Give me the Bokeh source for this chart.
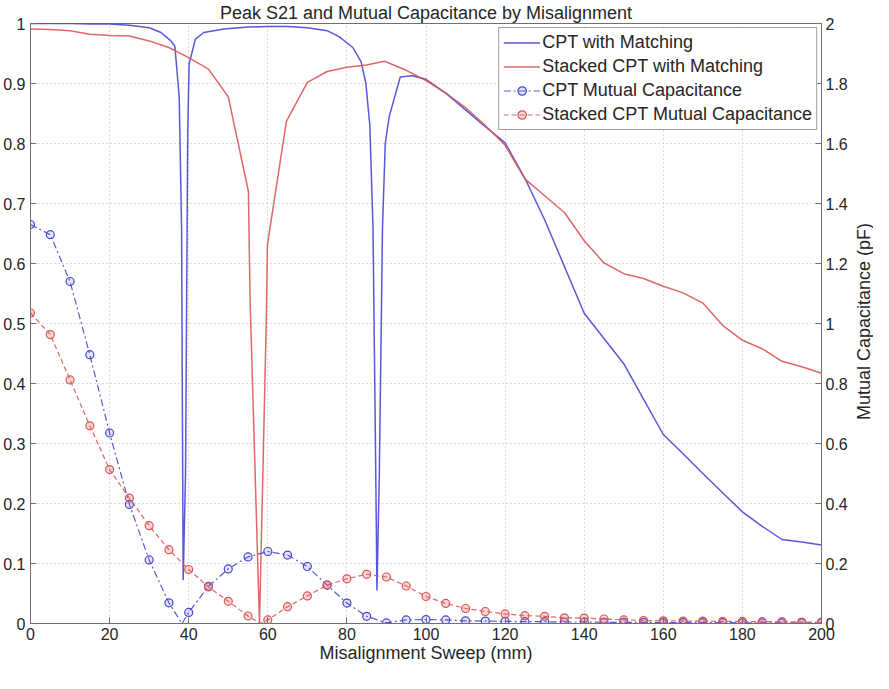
import math
from bokeh.plotting import figure
from bokeh.models import Range1d, LinearAxis, FixedTicker, Label
from bokeh.embed import file_html
from bokeh.resources import INLINE

# ---------------- data ----------------
# Peak S21, CPT with matching (left axis)
cpt_x = [0, 5, 10, 15, 20, 25, 30, 33, 35.5, 36.5, 37.6, 38.2, 38.6, 39.2, 39.6,
         39.75, 40.1, 41.7, 43.8, 48.9, 55, 60, 65, 70, 75, 78, 81.5, 83.6, 84.8,
         85.8, 86.6, 87.3, 87.6, 88.2, 89.0, 89.7, 90.7, 93.5, 96.5, 100, 105,
         110, 115, 120, 125, 130, 135, 140, 145, 150, 155, 160, 165, 170, 175,
         180, 185, 190, 195, 200]
cpt_s21 = [1.0, 1.0, 1.0, 0.999, 0.999, 0.997, 0.993, 0.985, 0.971, 0.962, 0.878,
           0.66, 0.072, 0.25, 0.66, 0.815, 0.933, 0.974, 0.985, 0.991, 0.994,
           0.995, 0.995, 0.993, 0.988, 0.978, 0.96, 0.936, 0.90, 0.83, 0.66, 0.25,
           0.055, 0.25, 0.66, 0.80, 0.845, 0.911, 0.913, 0.907, 0.884, 0.856,
           0.828, 0.801, 0.742, 0.673, 0.595, 0.517, 0.475, 0.433, 0.374, 0.315,
           0.283, 0.25, 0.218, 0.186, 0.162, 0.14, 0.136, 0.131]

# Peak S21, stacked CPT with matching (left axis)
stk_x = [0, 5, 10, 15, 20, 25, 30, 35, 40, 45, 50, 55.1, 55.5, 57.9, 59.7, 59.9,
         64.7, 70, 75, 80, 85, 89.5, 95, 100, 105, 110, 115, 120, 125, 130, 135,
         140, 145, 150, 155, 160, 165, 170, 175, 180, 185, 190, 195, 200]
stk_s21 = [0.991, 0.99, 0.988, 0.982, 0.98, 0.979, 0.971, 0.96, 0.943, 0.924,
           0.878, 0.72, 0.545, 0.0, 0.53, 0.631, 0.837, 0.902, 0.92, 0.927,
           0.931, 0.937, 0.922, 0.905, 0.884, 0.86, 0.83, 0.797, 0.741, 0.713,
           0.685, 0.638, 0.601, 0.583, 0.575, 0.562, 0.551, 0.534, 0.497, 0.472,
           0.458, 0.437, 0.428, 0.417]

# Mutual capacitance (pF, right axis), sampled every 5 mm
cap_x = [0, 5, 10, 15, 20, 25, 30, 35, 40, 45, 50, 55, 60, 65, 70, 75, 80, 85,
         90, 95, 100, 105, 110, 115, 120, 125, 130, 135, 140, 145, 150, 155,
         160, 165, 170, 175, 180, 185, 190, 195, 200]
cpt_cap = [1.33, 1.296, 1.14, 0.896, 0.635, 0.397, 0.212, 0.069, 0.037, 0.124,
           0.182, 0.222, 0.24, 0.228, 0.19, 0.128, 0.068, 0.024, 0.002, 0.012,
           0.013, 0.012, 0.009, 0.008, 0.007, 0.006, 0.006, 0.005, 0.005, 0.004,
           0.004, 0.004, 0.003, 0.003, 0.003, 0.003, 0.002, 0.002, 0.002, 0.002,
           0.002]
stk_cap = [1.035, 0.963, 0.812, 0.659, 0.513, 0.418, 0.326, 0.246, 0.18, 0.122,
           0.074, 0.025, 0.012, 0.056, 0.092, 0.128, 0.149, 0.164, 0.155, 0.125,
           0.09, 0.067, 0.05, 0.04, 0.032, 0.026, 0.024, 0.019, 0.018, 0.015,
           0.012, 0.01, 0.009, 0.008, 0.008, 0.007, 0.007, 0.006, 0.006, 0.005,
           0.005]
# capacitance nulls seen on the curves between samples
cpt_cap_null = (38.3, 0.0)
stk_cap_null = (58.0, 0.0)

x_ticks = [0, 20, 40, 60, 80, 100, 120, 140, 160, 180, 200]
y_ticks = [0, 0.1, 0.2, 0.3, 0.4, 0.5, 0.6, 0.7, 0.8, 0.9, 1]
y2_ticks = [0, 0.2, 0.4, 0.6, 0.8, 1, 1.2, 1.4, 1.6, 1.8, 2]

labels = ["CPT with Matching", "Stacked CPT with Matching",
          "CPT Mutual Capacitance", "Stacked CPT Mutual Capacitance"]
right_label = "Mutual Capacitance (pF)"


def with_null(xs, ys, null):
    pts = sorted(list(zip(xs, ys)) + [null])
    return [a for a, _ in pts], [b for _, b in pts]


FONT = "Liberation Sans"
TXT = "#262626"
AX = "#707070"
BLUE = "#4646d2"
RED = "#dc5656"

FRAME_H = 604

p = figure(width=873, height=665, output_backend="svg", toolbar_location=None,
           x_range=Range1d(0, 200), y_range=Range1d(0, 1),
           title="Peak S21 and Mutual Capacitance by Misalignment",
           min_border_left=0, min_border_right=52, min_border_top=0,
           min_border_bottom=0)
p.extra_y_ranges = {"cap": Range1d(0, 2)}

p.title.text_font = FONT
p.title.text_font_size = "18px"
p.title.text_font_style = "normal"
p.title.text_color = TXT
p.title.align = "center"
p.title.standoff = 1

p.outline_line_color = AX
p.outline_line_width = 1
p.background_fill_color = "white"
p.border_fill_color = "white"


def style_axis(ax, ticks):
    ax.ticker = FixedTicker(ticks=ticks)
    ax.major_tick_in = 6
    ax.major_tick_out = 0
    ax.minor_tick_out = 0
    ax.minor_tick_line_color = None
    ax.axis_line_color = AX
    ax.major_tick_line_color = AX
    ax.major_label_text_font = FONT
    ax.major_label_text_font_size = "16px"
    ax.major_label_text_color = TXT
    ax.axis_label_text_font = FONT
    ax.axis_label_text_font_size = "18px"
    ax.axis_label_text_font_style = "normal"
    ax.axis_label_text_color = TXT


style_axis(p.xaxis[0], x_ticks)
p.xaxis[0].major_label_standoff = 4
p.xaxis[0].axis_label = "Misalignment Sweep (mm)"
p.xaxis[0].axis_label_standoff = 0

style_axis(p.yaxis[0], y_ticks)
p.yaxis[0].major_label_standoff = 5
p.yaxis[0].major_label_overrides = {0: "0", 1: "1"}

yr = LinearAxis(y_range_name="cap")
style_axis(yr, y2_ticks)
yr.major_label_standoff = 4
yr.major_label_overrides = {0: "0", 1: "1", 2: "2"}
p.add_layout(yr, "right")

# right-axis title, reading bottom to top as in the reference (side panel)
p.add_layout(Label(x=13, y=FRAME_H / 2, x_units="screen", y_units="screen",
                   text=right_label, angle=math.pi / 2, text_align="center",
                   text_baseline="middle", text_font=FONT,
                   text_font_size="18px", text_color=TXT), "right")

for g in (p.xgrid[0], p.ygrid[0]):
    g.grid_line_color = "#b8b8b8"
    g.grid_line_dash = "1 3"
    g.grid_line_width = 1
p.xgrid[0].ticker = FixedTicker(ticks=x_ticks)
p.ygrid[0].ticker = FixedTicker(ticks=y_ticks)

# S21 curves
p.line(cpt_x, cpt_s21, line_color=BLUE, line_width=1.5, line_alpha=0.9,
       legend_label=labels[0])
p.line(stk_x, stk_s21, line_color=RED, line_width=1.5, line_alpha=0.9,
       legend_label=labels[1])

# Mutual capacitance curves
bx, by = with_null(cap_x, cpt_cap, cpt_cap_null)
p.line(bx, by, y_range_name="cap", line_color=BLUE, line_width=1.2,
       line_dash="7 3 2 3", line_alpha=0.9, legend_label=labels[2])
p.scatter(cap_x, cpt_cap, y_range_name="cap", marker="circle", size=8,
          line_color=BLUE, line_width=1.2, fill_color=BLUE, fill_alpha=0.15,
          legend_label=labels[2])

rx, ry = with_null(cap_x, stk_cap, stk_cap_null)
p.line(rx, ry, y_range_name="cap", line_color=RED, line_width=1.2,
       line_dash="5 3", line_alpha=0.9, legend_label=labels[3])
p.scatter(cap_x, stk_cap, y_range_name="cap", marker="circle", size=8,
          line_color=RED, line_width=1.2, fill_color=RED, fill_alpha=0.25,
          legend_label=labels[3])

lg = p.legend[0]
lg.location = "top_right"
lg.margin = 4
lg.padding = 4
lg.spacing = 3
lg.label_height = 21
lg.glyph_height = 21
lg.glyph_width = 37
lg.label_standoff = 2
lg.label_text_font = FONT
lg.label_text_font_size = "18px"
lg.label_text_color = TXT
lg.border_line_color = "#404040"
lg.border_line_width = 1
lg.background_fill_color = "white"
lg.background_fill_alpha = 1

open("out.html", "w").write(file_html(p, INLINE))
